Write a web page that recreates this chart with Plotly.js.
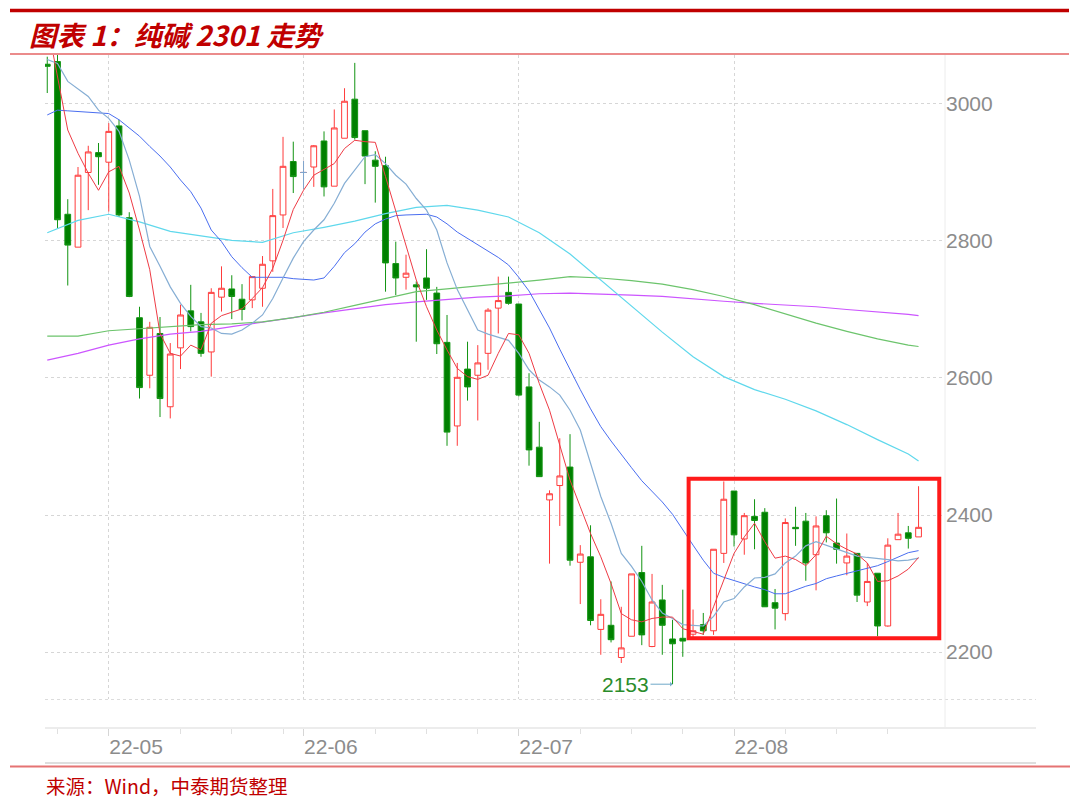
<!DOCTYPE html>
<html>
<head>
<meta charset="utf-8">
<script src="https://cdn.plot.ly/plotly-3.0.1.min.js"></script>
<style>html,body{margin:0;padding:0;background:#fff;}#chart{width:1080px;height:800px;}</style>
</head>
<body>
<div id="chart"></div>
<script>
// ---------- DATA ----------
const dates = ['2022-04-22','2022-04-25','2022-04-26','2022-04-27','2022-04-28','2022-04-29',
'2022-05-05','2022-05-06','2022-05-09','2022-05-10','2022-05-11','2022-05-12','2022-05-13','2022-05-16','2022-05-17','2022-05-18','2022-05-19','2022-05-20','2022-05-23','2022-05-24','2022-05-25','2022-05-26','2022-05-27','2022-05-30','2022-05-31',
'2022-06-01','2022-06-02','2022-06-06','2022-06-07','2022-06-08','2022-06-09','2022-06-10','2022-06-13','2022-06-14','2022-06-15','2022-06-16','2022-06-17','2022-06-20','2022-06-21','2022-06-22','2022-06-23','2022-06-24','2022-06-27','2022-06-28','2022-06-29','2022-06-30',
'2022-07-01','2022-07-04','2022-07-05','2022-07-06','2022-07-07','2022-07-08','2022-07-11','2022-07-12','2022-07-13','2022-07-14','2022-07-15','2022-07-18','2022-07-19','2022-07-20','2022-07-21','2022-07-22','2022-07-25','2022-07-26','2022-07-27','2022-07-28','2022-07-29',
'2022-08-01','2022-08-02','2022-08-03','2022-08-04','2022-08-05','2022-08-08','2022-08-09','2022-08-10','2022-08-11','2022-08-12','2022-08-15','2022-08-16','2022-08-17','2022-08-18','2022-08-19','2022-08-22','2022-08-23','2022-08-24','2022-08-25'];

const opens  = [3058,3062,2839,2791,2900,2929,2915,2968,2834,2688, 2604,2665,2558,2644,2698,2682,2638,2718,2730,2715, 2714,2731,2771,2838,2916,2900,2908,2946,2880,2950, 3007,2961,2918,2910,2767,2747,2736,2746,2724,2652, 2530,2613,2604,2636,2702,2725,2708,2587,2499,2422, 2443,2470,2331,2339,2233,2239,2192,2223,2316,2208, 2276,2219,2220,2226,2240,2231,2344,2435,2365,2398, 2404,2272,2256,2382,2391,2342,2399,2359,2330,2344, 2273,2315,2238,2364,2374,2368];
const highs  = [3069,3075,2861,2908,2939,2943,2972,2977,2842,2704, 2682,2689,2651,2707,2736,2695,2731,2763,2750,2737, 2748,2778,2876,2952,2945,2917,2940,2960,2992,3023, 3060,2961,2931,2923,2799,2780,2741,2788,2733,2692, 2622,2653,2648,2702,2748,2748,2708,2607,2536,2436, 2512,2518,2356,2385,2277,2303,2266,2314,2355,2314, 2298,2247,2291,2262,2257,2350,2449,2435,2403,2423, 2410,2292,2395,2412,2403,2398,2407,2424,2373,2344, 2330,2315,2366,2403,2384,2442];
const lows   = [3016,2819,2735,2791,2845,2882,2843,2835,2718,2570, 2585,2543,2541,2613,2668,2631,2602,2697,2686,2684, 2702,2704,2755,2819,2870,2876,2879,2865,2880,2950, 2948,2883,2856,2726,2721,2729,2653,2714,2635,2501, 2501,2567,2538,2612,2665,2707,2573,2472,2456,2329, 2384,2326,2270,2239,2196,2214,2184,2223,2210,2207, 2196,2153,2193,2218,2225,2225,2330,2354,2342,2350, 2266,2233,2246,2355,2304,2290,2360,2329,2312,2273, 2267,2223,2237,2364,2351,2368];
const closes = [3055,2831,2794,2896,2930,2923,2960,2838,2719,2586, 2674,2570,2635,2692,2675,2636,2725,2731,2719,2700, 2748,2766,2837,2909,2894,2900,2939,2879,2965,3004, 2951,2924,2909,2768,2746,2753,2733,2731,2650,2521, 2601,2587,2622,2699,2713,2709,2575,2495,2456,2431, 2457,2334,2343,2246,2255,2218,2206,2314,2225,2273, 2239,2212,2216,2231,2231,2350,2423,2371,2399,2392, 2266,2264,2389,2380,2330,2384,2374,2350,2340,2283, 2303,2238,2356,2372,2366,2382];

// moving averages
const ma5  = [3118,3040,2962,2928,2899,2874,2901,2909,2870,2816, 2758,2665,2636,2632,2648,2641,2680,2691,2696,2701, 2716,2732,2760,2801,2846,2874,2896,2904,2913,2935, 2947,2945,2944,2894,2843,2792,2743,2704,2670,2641, 2614,2602,2598,2604,2636,2665,2663,2636,2592,2553, 2500,2451,2412,2373,2339,2300,2256,2247,2244,2249, 2251,2251,2234,2230,2226,2266,2305,2344,2368,2388, 2361,2337,2340,2335,2326,2342,2369,2358,2350,2343, 2330,2303,2304,2311,2321,2338];
const ma10 = [3065,3059,3033,3022,3011,2991,2979,2960,2918,2865, 2792,2763,2733,2709,2690,2675,2673,2665,2664,2670, 2680,2692,2716,2746,2775,2799,2816,2831,2855,2884, 2904,2923,2926,2913,2896,2883,2862,2845,2816,2768, 2729,2699,2670,2664,2659,2655,2636,2612,2597,2587, 2575,2553,2524,2476,2427,2388,2344,2325,2303,2276, 2257,2249,2240,2239,2238,2252,2273,2278,2295,2308, 2309,2314,2330,2340,2355,2361,2356,2351,2346,2340, 2338,2337,2335,2333,2334,2337];
const ma20 = [2984,2991,2990,2989,2989,2988,2986,2977,2965,2953, 2938,2924,2908,2889,2872,2848,2816,2799,2777,2761, 2747,2747,2747,2747,2745,2744,2743,2746,2763,2783, 2796,2813,2825,2832,2837,2838,2839,2839,2835,2825, 2813,2804,2794,2785,2776,2765,2747,2727,2699,2673, 2642,2612,2583,2555,2529,2508,2488,2469,2450,2434, 2419,2401,2378,2356,2334,2315,2309,2304,2300,2295, 2291,2285,2285,2291,2296,2300,2307,2311,2315,2318, 2323,2326,2332,2339,2345,2348];
// long averages, read every third session
const longIdx = [0,3,6,9,12,15,18,21,24,27,30,33,36,39,42,45,48,51,54,57,60,63,66,69,72,75,78,81,84,85];
const ma40  = [2812,2830,2839,2828,2814,2807,2801,2798,2812,2820,2829,2840,2849,2852,2845,2835,2812,2781,2743,2705,2667,2631,2602,2583,2569,2552,2532,2510,2489,2479];
const ma60  = [2661,2661,2669,2672,2675,2678,2679,2682,2688,2696,2706,2716,2726,2730,2734,2738,2743,2748,2746,2742,2737,2729,2719,2707,2693,2680,2668,2657,2648,2646];
const ma120 = [2626,2636,2648,2657,2664,2668,2675,2681,2688,2695,2701,2707,2711,2715,2718,2720,2723,2724,2723,2721,2719,2715,2712,2709,2707,2704,2700,2697,2693,2691];

const monthTicks  = ['2022-05-05','2022-06-01','2022-07-01','2022-08-01'];
const monthLabels = ['22-05','22-06','22-07','22-08'];
const weekTicks   = ['2022-04-25','2022-05-16','2022-05-23','2022-05-30','2022-06-13','2022-06-20','2022-06-27','2022-07-11','2022-07-18','2022-07-25','2022-08-08','2022-08-15','2022-08-22'];
const yTicks = [2200,2400,2600,2800,3000];
const dojiIndex = 25;
const lowIndex = 61;
const boxRange = {i0: 62.57, i1: 87.02, p0: 2220, p1: 2453};

// ---------- CHART ----------
const longDates = longIdx.map(i => dates[i]);
const xr = [-0.22, 87.58];

const traces = [
  {type:'candlestick', x:dates, open:opens, high:highs, low:lows, close:closes,
   increasing:{line:{color:'#ff3b3b', width:1}, fillcolor:'#ffffff'},
   decreasing:{line:{color:'#129412', width:1}, fillcolor:'#008000'},
   whiskerwidth:0, hoverinfo:'skip', showlegend:false},
  {type:'candlestick', x:[dates[dojiIndex]], open:[opens[dojiIndex]], high:[highs[dojiIndex]], low:[lows[dojiIndex]], close:[closes[dojiIndex]],
   increasing:{line:{color:'#7fa7cf', width:1}, fillcolor:'#7fa7cf'},
   decreasing:{line:{color:'#7fa7cf', width:1}, fillcolor:'#7fa7cf'},
   whiskerwidth:0, hoverinfo:'skip', showlegend:false},
  {type:'scatter', mode:'lines', x:longDates, y:ma120, line:{color:'#cc55ff', width:1.2}, hoverinfo:'skip', showlegend:false},
  {type:'scatter', mode:'lines', x:longDates, y:ma60, line:{color:'#6cc46c', width:1.2}, hoverinfo:'skip', showlegend:false},
  {type:'scatter', mode:'lines', x:longDates, y:ma40, line:{color:'#5fd8ec', width:1.2}, hoverinfo:'skip', showlegend:false},
  {type:'scatter', mode:'lines', x:dates, y:ma20, line:{color:'#4a6ef0', width:1}, hoverinfo:'skip', showlegend:false},
  {type:'scatter', mode:'lines', x:dates, y:ma10, line:{color:'#86aed4', width:1.2}, hoverinfo:'skip', showlegend:false},
  {type:'scatter', mode:'lines', x:dates, y:ma5, line:{color:'#ee3b45', width:1}, hoverinfo:'skip', showlegend:false},
  {type:'scatter', mode:'lines', x:dates, y:closes, xaxis:'x2', yaxis:'y', line:{width:0}, opacity:0, hoverinfo:'skip', showlegend:false}
];

const H = 673;
const py = p => (728 - p) / H;       // paper y from pixel
const px = p => (p - 45) / 900;      // paper x from pixel

const layout = {
  width:1080, height:800,
  paper_bgcolor:'#ffffff', plot_bgcolor:'#ffffff',
  margin:{l:45, r:135, t:55, b:72, autoexpand:false},
  showlegend:false,
  boxgap:0.2,
  xaxis:{
    type:'category', categoryorder:'array', categoryarray:dates, range:xr,
    rangeslider:{visible:false},
    tickmode:'array', tickvals:monthTicks, ticktext:monthLabels,
    ticks:'outside', ticklen:7, tickcolor:'#d6d6d6', tickwidth:1,
    ticklabelposition:'outside right',
    tickfont:{family:'Liberation Sans, Arial, sans-serif', size:21, color:'#8c8c8c'},
    showgrid:true, gridcolor:'#d6d6d6', griddash:'dot', gridwidth:1,
    showline:false, zeroline:false, anchor:'free', position:0, fixedrange:true
  },
  xaxis2:{
    type:'category', categoryorder:'array', categoryarray:dates, range:xr,
    overlaying:'x', anchor:'free', position:0,
    tickmode:'array', tickvals:weekTicks, ticks:'outside', ticklen:5, tickcolor:'#e0e0e0',
    showticklabels:false, showgrid:false, showline:false, zeroline:false
  },
  yaxis:{
    domain:[29/H, 1], side:'right', range:[2131.4, 3071.5],
    tickmode:'array', tickvals:yTicks, ticks:'',
    tickfont:{family:'Liberation Sans, Arial, sans-serif', size:21, color:'#8c8c8c'},
    showgrid:true, gridcolor:'#d6d6d6', griddash:'dot', gridwidth:1,
    showline:false, zeroline:false, fixedrange:true
  },
  shapes:[
    {type:'line', xref:'paper', yref:'paper', x0:px(10), x1:px(1069), y0:py(10.5), y1:py(10.5), line:{color:'#c00000', width:3.5}},
    {type:'line', xref:'paper', yref:'paper', x0:px(10), x1:px(1069), y0:py(54), y1:py(54), line:{color:'#e46464', width:1.5}},
    {type:'line', xref:'paper', yref:'paper', x0:0, x1:px(1036), y0:py(699.5), y1:py(699.5), line:{color:'#dcdcdc', width:1, dash:'dot'}},
    {type:'line', xref:'paper', yref:'paper', x0:0, x1:px(1036), y0:py(728), y1:py(728), line:{color:'#e6e6e6', width:1.5}},
    {type:'line', xref:'paper', yref:'paper', x0:0, x1:px(1036), y0:py(763), y1:py(763), line:{color:'#dedede', width:2}},
    {type:'line', xref:'paper', yref:'paper', x0:px(10), x1:px(1070), y0:py(766.5), y1:py(766.5), line:{color:'#e57373', width:2}},
    {type:'line', xref:'paper', yref:'paper', x0:1, x1:1, y0:0, y1:1, line:{color:'#ececec', width:1}},
    {type:'rect', xref:'x', yref:'y', x0:boxRange.i0, x1:boxRange.i1, y0:boxRange.p0, y1:boxRange.p1, line:{color:'#ff1a1a', width:4}}
  ],
  annotations:[
    {xref:'paper', yref:'paper', x:px(27), y:py(34), xanchor:'left', yanchor:'middle', showarrow:false,
     text:'<b><i>图表 1：纯碱 2301 走势</i></b>', font:{family:'Noto Sans CJK SC', size:27.5, color:'#c00000'}},
    {xref:'paper', yref:'paper', x:px(44), y:py(785), xanchor:'left', yanchor:'middle', showarrow:false,
     text:'来源：Wind，中泰期货整理', font:{family:'Noto Sans CJK SC', size:19.5, color:'#c00000'}},
    {xref:'x', yref:'y', x:dates[lowIndex], y:lows[lowIndex], text:String(lows[lowIndex]),
     showarrow:true, ax:-47, ay:0, arrowcolor:'#6fa8c8', arrowwidth:1, arrowhead:1, arrowsize:0.8, standoff:0,
     font:{family:'Liberation Sans, Arial, sans-serif', size:21, color:'#2a8c2a'}}
  ]
};

Plotly.newPlot('chart', traces, layout, {displayModeBar:false, staticPlot:true});
</script>
</body>
</html>
